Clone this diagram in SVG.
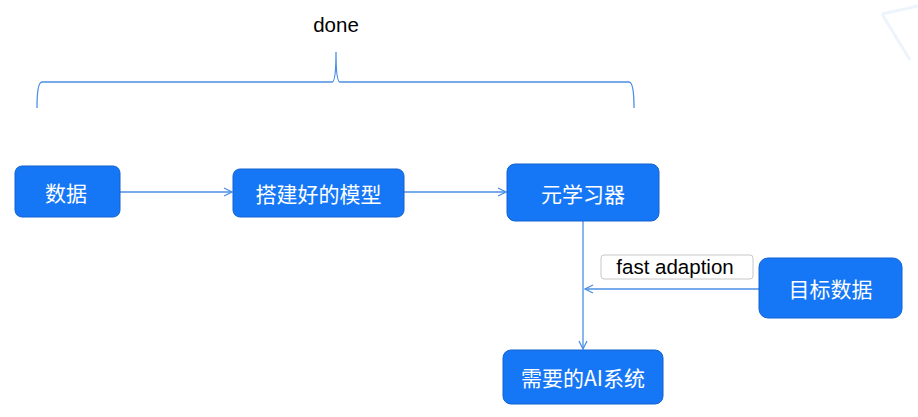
<svg xmlns="http://www.w3.org/2000/svg" width="918" height="417" viewBox="0 0 918 417">
<defs>
<style>
.node rect{fill:#1677f6;stroke:#1262d0;stroke-width:1}
.node text{fill:#ffffff;font-family:"Noto Sans CJK SC","Liberation Sans",sans-serif;font-size:21px;text-anchor:middle;dominant-baseline:central}
.conn{fill:none;stroke:#4a8fe6;stroke-width:1.3}
.lbl{font-family:"Liberation Sans",Arial,sans-serif;font-size:20.5px;fill:#000}
</style>
<marker id="arr" viewBox="0 0 10 10" refX="9" refY="5" markerWidth="10" markerHeight="10" markerUnits="userSpaceOnUse" orient="auto">
<path d="M1,1 L9,5 L1,9" fill="none" stroke="#4a8fe6" stroke-width="1.3"/>
</marker>
</defs>
<rect width="918" height="417" fill="#ffffff"/>
<path d="M882,14 L918,6 M882,14 L910,60" fill="none" stroke="#eef4fc" stroke-width="3"/>
<text x="336" y="32" class="lbl" text-anchor="middle">done</text>
<path class="conn" d="M37,108 Q37,82 42,82 L332,82 Q336,82 336,52 Q336,82 340,82 L629,82 Q634,82 634,108"/>
<g id="connectors">
<line class="conn" x1="120" y1="192" x2="232" y2="192" marker-end="url(#arr)"/>
<line class="conn" x1="404" y1="192" x2="506" y2="192" marker-end="url(#arr)"/>
<line class="conn" x1="583" y1="221" x2="583" y2="349" marker-end="url(#arr)"/>
<line class="conn" x1="759" y1="289" x2="585" y2="289" marker-end="url(#arr)"/>
<g id="label-fast">
<rect x="601" y="255" width="152" height="24" rx="3" fill="#ffffff" stroke="#c8c8c8" stroke-width="1"/>
<text x="675" y="274" class="lbl" text-anchor="middle">fast adaption</text>
</g>
</g>
<g id="n-data" class="node"><rect x="15" y="166" width="105" height="51" rx="7"/><text x="66" y="191.5">数据</text></g>
<g id="n-model" class="node"><rect x="233" y="169" width="171" height="48" rx="7"/><text x="318.5" y="193">搭建好的模型</text></g>
<g id="n-meta" class="node"><rect x="507" y="164" width="152" height="57" rx="8"/><text x="583" y="192.5">元学习器</text></g>
<g id="n-target" class="node"><rect x="759" y="258" width="143" height="60" rx="9"/><text x="830.5" y="288">目标数据</text></g>
<g id="n-ai" class="node"><rect x="503" y="350" width="160" height="54" rx="8"/><text x="583" y="377">需要的AI系统</text></g>
</svg>
